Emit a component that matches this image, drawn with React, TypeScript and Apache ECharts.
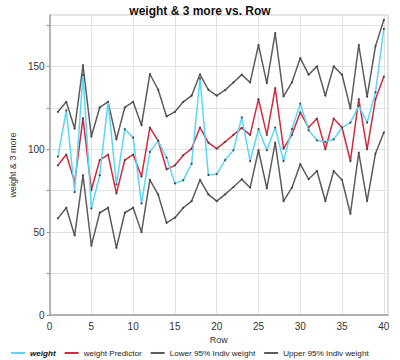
import React, { useEffect, useRef } from "react";
import * as echarts from "echarts";

const rows = Array.from({ length: 40 }, (_, i) => i + 1);
const weight = [95.6, 123.4, 74.2, 144.8, 64.3, 84.3, 128.6, 78.8, 112.1, 107, 67.3, 98.4, 105, 95, 79.4, 81.3, 91.3, 142.7, 84.5, 85, 93.5, 99.4, 119.2, 92.9, 112.1, 99.4, 113.1, 92.9, 112.1, 127.5, 111.5, 105.4, 104.4, 106, 113.1, 116.1, 126.2, 116.1, 134.3, 172.6];
const predictor = [90.3, 96.8, 80.2, 118.8, 75.4, 93.5, 96.8, 73.4, 93.5, 96.8, 83.5, 113.1, 105, 87.9, 90.3, 96.4, 100.4, 113.1, 104, 100.4, 104.4, 108.7, 112.9, 108.7, 130.2, 108.7, 136.9, 100.4, 108.7, 122.2, 113.1, 118.5, 100, 118.5, 113.1, 92.9, 130.2, 100, 130.2, 143.8];
const upper = [122.6, 128.6, 112.5, 150.8, 107.7, 125.2, 128.6, 106, 125.2, 128.6, 114.5, 145.4, 135.9, 119.8, 122.6, 128.6, 132.3, 145.2, 135.9, 132.3, 135.7, 140.3, 145, 140.3, 162.9, 139.9, 170, 131.9, 140.3, 155, 145, 150, 132.3, 150, 145, 124.6, 162.9, 131.7, 162.1, 178];
const lower = [58.3, 64.7, 48, 84.3, 41.9, 61.7, 64.7, 40.5, 61.7, 64.7, 50, 81.5, 72.6, 55.6, 58.7, 64.7, 68.75, 81.5, 72.8, 68.75, 72.8, 77.2, 81.9, 76.8, 99.4, 76.4, 104, 68.75, 76.8, 91, 81.9, 86.9, 68.75, 86.9, 81.5, 61.1, 98, 68.75, 97.4, 110.1];
const xTicks = [0, 5, 10, 15, 20, 25, 30, 35, 40];
const yLabels = [0, 50, 100, 150];
const yTicks = [0, 25, 50, 75, 100, 125, 150, 175];

const FONT = "'Liberation Sans', Arial, sans-serif";
const C_WEIGHT = "#5cd6f5";
const C_PRED = "#d02a3e";
const C_GRAY = "#5c5c5c";

export default function App() {
  const ref = useRef<HTMLDivElement>(null);
  useEffect(() => {
    if (!ref.current) return;
    const chart = echarts.init(ref.current, undefined, { renderer: "svg" });
    const mk = (name: string, vals: number[], color: string, z: number) => ({
      name,
      type: "line",
      data: rows.map((r, i) => [r, vals[i]]),
      showSymbol: true,
      symbol: "circle",
      symbolSize: 2,
      itemStyle: { color: "#444" },
      lineStyle: { color, width: 1.5 },
      z,
    });
    chart.setOption({
      animation: false,
      title: {
        text: "weight & 3 more vs. Row",
        left: "center",
        top: 0,
        textStyle: { fontFamily: FONT, fontSize: 12, fontWeight: "bold", color: "#111" },
      },
      grid: {
        left: 35,
        right: 12,
        top: 15,
        bottom: 45,
        show: true,
        borderColor: "#c8c8c8",
        borderWidth: 1,
      },
      legend: {
        top: 344,
        left: 6,
        width: 394,
        itemWidth: 14,
        itemHeight: 2,
        itemGap: 9,
        icon: "rect",
        data: [
          { name: "weight", itemStyle: { color: C_WEIGHT } },
          { name: "weight Predictor", itemStyle: { color: C_PRED } },
          { name: "Lower 95% Indiv weight", itemStyle: { color: C_GRAY } },
          { name: "Upper 95% Indiv weight", itemStyle: { color: C_GRAY } },
        ],
        formatter: (n: string) => (n === "weight" ? "{b|weight}" : n),
        textStyle: {
          fontFamily: FONT,
          fontSize: 8.1,
          color: "#222",
          rich: { b: { fontFamily: FONT, fontSize: 8.1, fontWeight: "bold", fontStyle: "italic", color: "#111" } },
        },
      },
      xAxis: {
        type: "value",
        min: 0,
        max: 40.5,
        interval: 5,
        name: "Row",
        nameLocation: "middle",
        nameGap: 19,
        nameTextStyle: { fontFamily: FONT, fontSize: 9, color: "#333" },
        axisLine: { show: true, lineStyle: { color: "#a0a0a0", width: 1.5 } },
        axisTick: { show: false },
        axisLabel: { customValues: xTicks, fontFamily: FONT, fontSize: 10, color: "#333", margin: 6 },
        splitLine: { show: true, lineStyle: { color: "#e2e2e2" } },
      },
      yAxis: {
        type: "value",
        min: 0,
        max: 181,
        interval: 50,
        name: "weight & 3 more",
        nameLocation: "middle",
        nameGap: 22,
        nameTextStyle: { fontFamily: FONT, fontSize: 9, color: "#333" },
        axisLine: { show: true, lineStyle: { color: "#a0a0a0", width: 1.5 } },
        axisTick: { show: true, customValues: yTicks, length: 3, lineStyle: { color: "#999" } },
        axisLabel: { customValues: yLabels, fontFamily: FONT, fontSize: 10, color: "#333", margin: 5 },
        splitLine: { show: true, lineStyle: { color: "#e2e2e2" } },
      },
      series: [
        mk("Lower 95% Indiv weight", lower, C_GRAY, 2),
        mk("Upper 95% Indiv weight", upper, C_GRAY, 2),
        mk("weight Predictor", predictor, C_PRED, 3),
        mk("weight", weight, C_WEIGHT, 4),
      ],
    });
    return () => chart.dispose();
  }, []);
  return <div ref={ref} style={{ width: 400, height: 360, position: "absolute", left: 0, top: 0 }} />;
}
